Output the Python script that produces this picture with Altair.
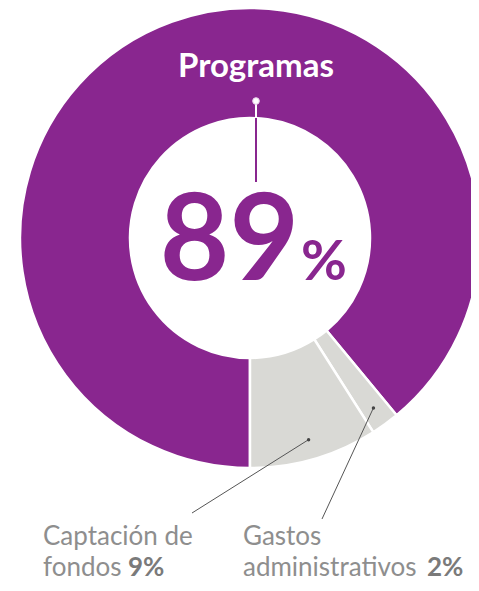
import math
import altair as alt
import pandas as pd

# ---- data ----
categories = ["Programas", "Gastos administrativos", "Captación de fondos"]
values = [89, 2, 9]
order = [0, 1, 2]
colors = ["#89268F", "#D9D9D5", "#D9D9D5"]

# ---- layout constants ----
W, H = 463, 575
CX, CY = 242, 230
R_OUT, R_IN = 230, 120
PURPLE = "#89268F"
GRAY_TXT = "#8E8E8E"
FONT = "Lato"

df = pd.DataFrame({"cat": categories, "value": values, "ord": order})

arc = alt.Chart(df).mark_arc(
    outerRadius=R_OUT, innerRadius=R_IN, stroke="white", strokeWidth=2.5
).encode(
    theta=alt.Theta("value:Q", stack=True, scale=alt.Scale(range=[math.pi, 3 * math.pi])),
    color=alt.Color("cat:N", scale=alt.Scale(domain=categories, range=colors), legend=None),
    order=alt.Order("ord:Q"),
    x=alt.value(CX),
    y=alt.value(CY),
)

# leader line inner ends at segment mid-angles
total = sum(values)
cum = 0
mids = {}
for c, v in zip(categories, values):
    a0 = math.pi + 2 * math.pi * cum / total
    a1 = math.pi + 2 * math.pi * (cum + v) / total
    mids[c] = (a0 + a1) / 2
    cum += v

def polar(angle, r):
    return CX + r * math.sin(angle), CY - r * math.cos(angle)

cx1, cy1 = polar(mids["Captación de fondos"], 210)
gx1, gy1 = polar(mids["Gastos administrativos"], 210)
leaders = pd.DataFrame({
    "x": [cx1, gx1], "y": [cy1, gy1],
    "x2": [184, 314], "y2": [505, 511],
})
lead_lines = alt.Chart(leaders).mark_rule(color="#555555", strokeWidth=1).encode(
    x=alt.X("x:Q", scale=None, axis=None), y=alt.Y("y:Q", scale=None, axis=None),
    x2="x2:Q", y2="y2:Q",
)
lead_dots = alt.Chart(leaders).mark_point(filled=True, color="#444444", size=12, opacity=1).encode(
    x=alt.X("x:Q", scale=None, axis=None), y=alt.Y("y:Q", scale=None, axis=None),
)

# Programas pointer
top_pt = pd.DataFrame({"x": [CX + 6], "y": [93], "y_in": [CY - R_IN], "y_end": [174]})
white_line = alt.Chart(top_pt).mark_rule(color="white", strokeWidth=2).encode(
    x=alt.X("x:Q", scale=None, axis=None), y=alt.Y("y:Q", scale=None, axis=None), y2="y_in:Q"
)
purple_line = alt.Chart(top_pt).mark_rule(color=PURPLE, strokeWidth=2).encode(
    x=alt.X("x:Q", scale=None, axis=None), y=alt.Y("y_in:Q", scale=None, axis=None), y2="y_end:Q"
)
dot = alt.Chart(top_pt).mark_point(filled=True, color="white", size=45, opacity=1,
                                   stroke="#E8C8EA", strokeWidth=1).encode(
    x=alt.X("x:Q", scale=None, axis=None), y=alt.Y("y:Q", scale=None, axis=None)
)

def txt(text, x, y, size, color, weight="normal", align="left", font=FONT):
    return alt.Chart(pd.DataFrame({"t": [text]})).mark_text(
        font=font, fontSize=size, fontWeight=weight, color=color, align=align, baseline="alphabetic"
    ).encode(text="t:N", x=alt.value(x), y=alt.value(y))

texts = [
    txt("Programas", CX + 6, 69, 33, "white", "bold", "center"),
    txt("89", 291, 272, 120, PURPLE, "bold", "right"),
    txt("%", 293, 272, 56, PURPLE, "bold", "left"),
    txt("Captación de", 35, 537, 26, GRAY_TXT),
    txt("fondos", 35, 568, 26, GRAY_TXT),
    txt("9%", 120, 568, 26, "#7A7A7A", "bold"),
    txt("Gastos", 235, 537, 26, GRAY_TXT),
    txt("administrativos", 235, 568, 26, GRAY_TXT),
    txt("2%", 419, 568, 26, "#7A7A7A", "bold"),
]

chart = alt.layer(arc, lead_lines, lead_dots, white_line, purple_line, dot, *texts).properties(
    width=W, height=H, padding=0, autosize="none"
).configure_view(stroke=None)

chart.save("out.html", embed_options={"renderer": "svg", "actions": False})
